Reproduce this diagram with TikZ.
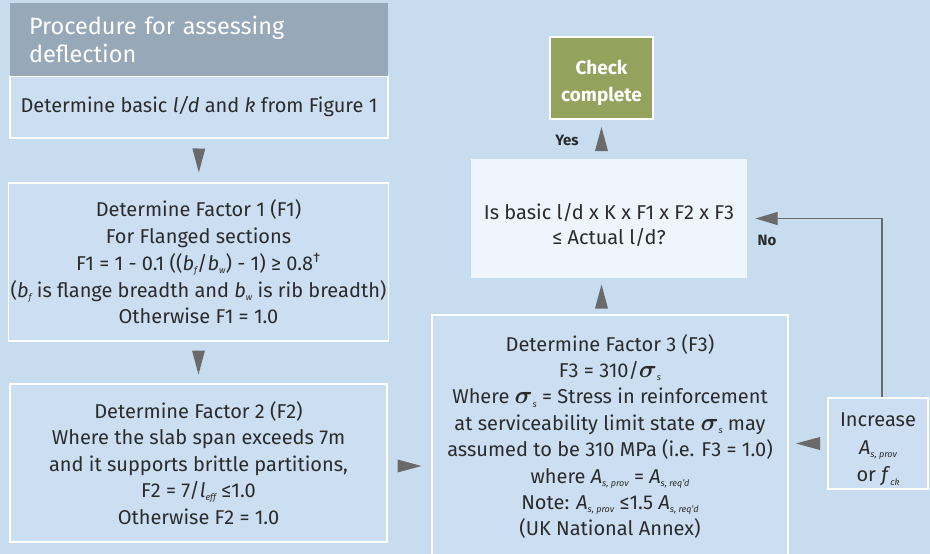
\documentclass[tikz,border=0pt]{standalone}
\usepackage{amsmath}
\usepackage{fontspec}
\setmainfont{Fira Sans}
\usetikzlibrary{arrows.meta, calc, decorations.markings}

\definecolor{bgblue}{HTML}{C8DCF0}
\definecolor{boxblue}{HTML}{CCDFF2}
\definecolor{askblue}{HTML}{EEF5FC}
\definecolor{headgray}{HTML}{97A8B8}
\definecolor{okgreen}{HTML}{93A35E}
\definecolor{arrowgray}{HTML}{6A6A6A}
\definecolor{inkgray}{HTML}{2B2B2B}

\newcommand{\lowtxt}[1]{\raisebox{-0.3ex}{\fontsize{9}{9}\selectfont\itshape #1}}
\newcommand{\sgm}{{\fontsize{26}{26}\selectfont$\boldsymbol{\sigma}$}}

\begin{document}
\begin{tikzpicture}[x=1pt, y=-1pt,
  box/.style={draw=white, line width=1.2pt, fill=boxblue, text=inkgray, align=center, inner sep=2pt,
    font=\fontsize{20}{26.5}\selectfont},
  tri/.style={postaction={decorate}, decoration={markings, mark=at position 0.5 with
    {\fill[arrowgray] (-12pt,-6.5pt) -- (12pt,0pt) -- (-12pt,6.5pt) -- cycle;}}},
  lbl/.style={text=inkgray, font=\fontsize{15}{15}\selectfont\bfseries}]
  \useasboundingbox (0,0) rectangle (930,554);
  \clip (0,0) rectangle (930,554);
  \fill[bgblue] (0,0) rectangle (930,554);

  \node[box, minimum width=378pt, minimum height=62pt] (basic) at (199,107)
    {Determine basic \textit{l/d} and \textit{k} from Figure 1};
  \node[fill=headgray, text=white, minimum width=378pt, minimum height=73pt, text width=340pt,
    inner xsep=19pt, align=left, font=\fontsize{23.5}{28}\selectfont] (title) at (199,39.5)
    {Procedure for assessing\\deflection};
  \node[box, minimum width=377pt, minimum height=158pt, font=\fontsize{20}{26.7}\selectfont] (f1) at (198.5,262)
    {Determine Factor 1 (F1)\\For Flanged sections\\
     F1 = 1 - 0.1 ((\textit{b}\lowtxt{f}/\textit{b}\lowtxt{w}) - 1) ≥ 0.8\textsuperscript{†}\\
     (\textit{b}\lowtxt{f} is flange breadth and \textit{b}\lowtxt{w} is rib breadth)\\
     Otherwise F1 = 1.0};
  \node[box, minimum width=377pt, minimum height=158pt] (f2) at (198.5,463)
    {Determine Factor 2 (F2)\\Where the slab span exceeds 7m\\and it supports brittle partitions,\\
     F2 = 7/\textit{l}\lowtxt{eff} ≤1.0\\Otherwise F2 = 1.0};
  \node[box, minimum width=356pt, minimum height=243pt, font=\fontsize{20}{26.4}\selectfont] (f3) at (610,436.5)
    {Determine Factor 3 (F3)\\F3 = 310/\sgm\lowtxt{s}\\
     Where \sgm\lowtxt{s} = Stress in reinforcement\\
     at serviceability limit state \sgm\lowtxt{s} may\\
     assumed to be 310 MPa (i.e. F3 = 1.0)\\
     where \textit{A}\lowtxt{s, prov} = \textit{A}\lowtxt{s, req’d}\\
     Note: \textit{A}\lowtxt{s, prov} ≤1.5 \textit{A}\lowtxt{s, req’d}\\
     (UK National Annex)};
  \node[box, draw=none, fill=askblue, minimum width=276pt, minimum height=119pt, text height=56pt, text depth=3.2pt,
    font=\fontsize{20}{25}\selectfont] (decision) at (609,218.5)
    {Is basic l/d x K x F1 x F2 x F3\\≤ Actual l/d?};
  \node[box, fill=okgreen, text=white, minimum width=103pt, minimum height=82pt, text height=50pt, text depth=2.8pt,
    font=\fontsize{19}{27}\selectfont\bfseries] (check) at (601.5,78)
    {Check\\complete};
  \node[box, minimum width=100pt, minimum height=91pt, text height=80pt, text depth=3.2pt,
    font=\fontsize{20}{27.5}\selectfont] (increase) at (878,443.5)
    {Increase\\\textit{A}\lowtxt{s, prov}\\or \textit{f}\lowtxt{ck}};

  \path[tri] (basic) -- (f1);
  \path[tri] (f1) -- (f2);
  \path[tri] ([yshift=-3pt]f2.east) -- ([yshift=-3pt]f2.east -| f3.west);
  \path[tri] (f3.north -| check) -- (decision.south -| check);
  \path[tri] (decision.north -| check) -- (check.south);
  \path[tri] (increase.west) -- (increase.west -| f3.east);
  \draw[arrowgray, line width=1.2pt, -{Triangle[length=22pt, width=13pt]}, shorten >=8pt]
    ([xshift=4pt]increase.north) |- (decision.east);

  \node[lbl] (yes) at (567,140) {Yes};
  \node[lbl] (no) at (767,240) {No};
\end{tikzpicture}
\end{document}
